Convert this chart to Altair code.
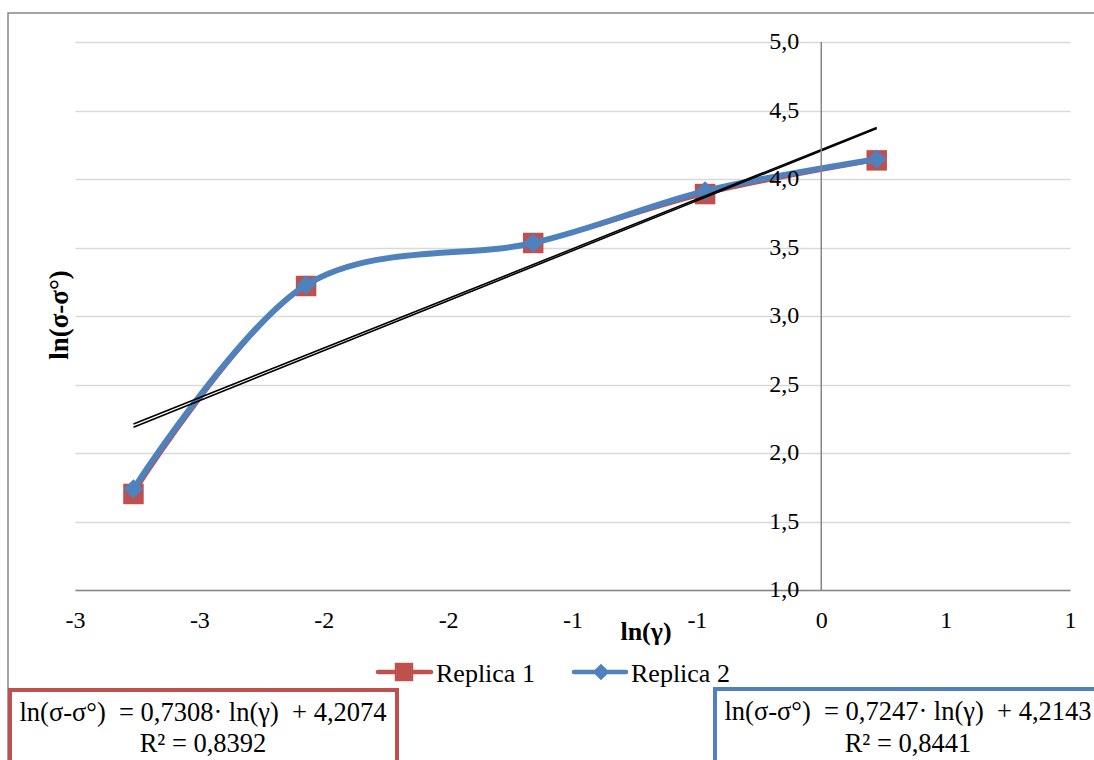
import altair as alt
import pandas as pd

# ---------------- data ----------------
ln_gamma = [-2.765, -2.071, -1.158, -0.467, 0.223]
replica1 = [1.701, 3.219, 3.533, 3.890, 4.136]
replica2 = [1.737, 3.226, 3.533, 3.912, 4.145]
series_names = ["Replica 1", "Replica 2"]

x_ticks = [-3, -2.5, -2, -1.5, -1, -0.5, 0, 0.5, 1]
x_tick_labels = ["-3", "-3", "-2", "-2", "-1", "-1", "0", "1", "1"]
y_ticks = [1.0, 1.5, 2.0, 2.5, 3.0, 3.5, 4.0, 4.5, 5.0]
y_tick_labels = ["1,0", "1,5", "2,0", "2,5", "3,0", "3,5", "4,0", "4,5", "5,0"]

eq1_lines = ["ln(σ-σ°)\u00a0\u00a0= 0,7308· ln(γ)\u00a0\u00a0+ 4,2074", "R² = 0,8392"]
eq2_lines = ["ln(σ-σ°)\u00a0\u00a0= 0,7247· ln(γ)\u00a0\u00a0+ 4,2143", "R² = 0,8441"]
x_title = "ln(γ)"
y_title = "ln(σ-σ°)"

# ---------------- style ----------------
RED = "#c0504d"
BLUE = "#4f81bd"
GRID = "#d9d9d9"
AXIS = "#868686"
SERIF = "Liberation Serif"

W, H = 995, 548
PAD_L, PAD_T = 75, 42

df = pd.concat([
    pd.DataFrame({"x": ln_gamma, "y": replica1, "series": series_names[0]}),
    pd.DataFrame({"x": ln_gamma, "y": replica2, "series": series_names[1]}),
], ignore_index=True)
df1 = df[df.series == series_names[0]]
df2 = df[df.series == series_names[1]]

xs = alt.Scale(domain=[-3, 1], nice=False, zero=False)
ys = alt.Scale(domain=[1, 5], nice=False, zero=False)

label_expr = "[" + ",".join("'%s'" % t for t in x_tick_labels) + "][indexof([" + \
    ",".join(str(v) for v in x_ticks) + "], datum.value)]"

xaxis = alt.Axis(values=x_ticks, labelExpr=label_expr, domain=True, domainColor=AXIS,
                 domainWidth=1.5, ticks=False, grid=False, labelFont=SERIF, labelFontSize=24,
                 labelColor="black", labelPadding=18, labelFlush=False, labelOverlap=False,
                 title=None)
yaxis = alt.Axis(values=y_ticks, grid=True, gridColor=GRID, gridWidth=1.5, labels=False,
                 ticks=False, domain=False, title=None)


def X(field="x:Q"):
    return alt.X(field, scale=xs, axis=xaxis)


def Y(field="y:Q"):
    return alt.Y(field, scale=ys, axis=yaxis)


red_line = alt.Chart(df1).mark_line(interpolate="cardinal", color=RED, strokeWidth=3.5).encode(x=X(), y=Y())
red_pts = alt.Chart(df1).mark_point(shape="square", filled=True, size=420, color=RED, opacity=1).encode(x=X(), y=Y())
blue_line = alt.Chart(df2).mark_line(interpolate="cardinal", color=BLUE, strokeWidth=6).encode(x=X(), y=Y())
blue_pts = alt.Chart(df2).mark_point(shape="diamond", filled=True, size=380, color=BLUE, opacity=1).encode(x=X(), y=Y())

trend = alt.Chart(df).transform_regression("x", "y", groupby=["series"]).mark_line(
    color="black", strokeWidth=1.6).encode(x=X(), y=Y(), detail="series:N")

# vertical axis at x = 0
yline = alt.Chart(pd.DataFrame({"v": [0]})).mark_rule(color=AXIS, strokeWidth=1.5).encode(
    x=alt.X("v:Q", scale=xs, axis=xaxis), y=alt.value(0), y2=alt.value(H))

ylab_df = pd.DataFrame({"v": y_ticks, "lab": y_tick_labels, "x0": [0] * len(y_ticks)})
ylabels = alt.Chart(ylab_df).mark_text(align="right", baseline="middle", dx=-22, font=SERIF,
                                       fontSize=24, color="black").encode(
    x=alt.X("x0:Q", scale=xs, axis=xaxis), y=alt.Y("v:Q", scale=ys, axis=yaxis), text="lab:N")


def txt(t, x, y, size=26, bold=False, align="center", angle=0, baseline="alphabetic"):
    kw = dict(align=align, baseline=baseline, font=SERIF, fontSize=size, color="black")
    if bold:
        kw["fontWeight"] = "bold"
    if angle:
        kw["angle"] = angle
    return alt.Chart(pd.DataFrame({"t": [t]})).mark_text(**kw).encode(
        x=alt.value(x), y=alt.value(y), text="t:N")


def box(x1, x2, y1, y2, color, width):
    return alt.Chart(pd.DataFrame({"a": [0]})).mark_rect(
        fill="transparent", stroke=color, strokeWidth=width).encode(
        x=alt.value(x1), x2=alt.value(x2), y=alt.value(y1), y2=alt.value(y2))


outer = box(8 - PAD_L, 1120 - PAD_L, 13 - PAD_T, 790 - PAD_T, AXIS, 1.5)

x_title_mark = txt(x_title, 646 - PAD_L, 640 - PAD_T, size=26, bold=True)
y_title_mark = txt(y_title, 60 - PAD_L, 315 - PAD_T, size=27, bold=True, angle=270, baseline="middle")

# legend
LEG_Y = 672 - PAD_T


def leg_line(x1, x2, color, w):
    return alt.Chart(pd.DataFrame({"a": [0]})).mark_rule(color=color, strokeWidth=w, strokeCap="round").encode(
        x=alt.value(x1), x2=alt.value(x2), y=alt.value(LEG_Y))


def leg_sym(x, shape, color, size):
    return alt.Chart(pd.DataFrame({"a": [0]})).mark_point(shape=shape, filled=True, size=size, color=color,
                                                          opacity=1).encode(x=alt.value(x), y=alt.value(LEG_Y))


legend = [
    leg_line(378 - PAD_L, 431 - PAD_L, RED, 4.5),
    leg_sym(404 - PAD_L, "square", RED, 340),
    txt(series_names[0], 436 - PAD_L, 682 - PAD_T, size=26, align="left"),
    leg_line(574 - PAD_L, 626 - PAD_L, BLUE, 4.5),
    leg_sym(601 - PAD_L, "diamond", BLUE, 280),
    txt(series_names[1], 631 - PAD_L, 682 - PAD_T, size=26, align="left"),
]

eq_boxes = [
    box(10 - PAD_L, 397 - PAD_L, 690 - PAD_T, 790 - PAD_T, RED, 4),
    txt(eq1_lines[0], 203 - PAD_L, 721 - PAD_T, size=26.5),
    txt(eq1_lines[1], 203 - PAD_L, 752 - PAD_T, size=26.5),
    box(715 - PAD_L, 1120 - PAD_L, 689 - PAD_T, 790 - PAD_T, BLUE, 4),
    txt(eq2_lines[0], 908 - PAD_L, 720 - PAD_T, size=26.5),
    txt(eq2_lines[1], 908 - PAD_L, 752 - PAD_T, size=26.5),
]

chart = alt.layer(
    red_line, red_pts, blue_line, blue_pts, trend, yline, ylabels,
    outer, x_title_mark, y_title_mark, *legend, *eq_boxes
).properties(
    width=W, height=H,
    autosize=alt.AutoSizeParams(type="none"),
    padding={"left": PAD_L, "top": PAD_T, "right": 1094 - PAD_L - W, "bottom": 760 - PAD_T - H},
    background="white",
).configure_view(stroke=None)

chart.save("out.html", embed_options={"renderer": "svg", "actions": False})
